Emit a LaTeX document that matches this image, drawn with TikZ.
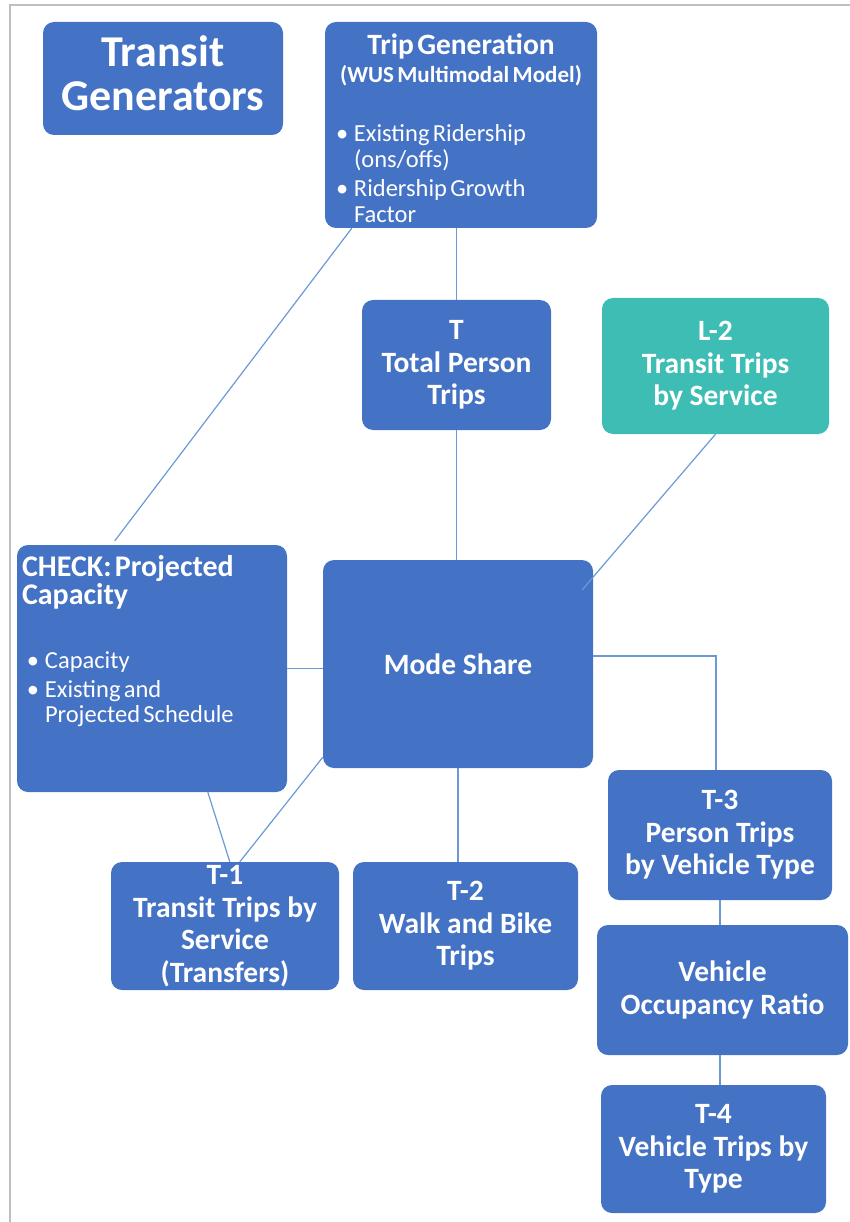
\documentclass[tikz,border=0pt]{standalone}
\usepackage{fontspec}
\setmainfont{Carlito}
\usepackage{tikz}
\usetikzlibrary{positioning}

\definecolor{boxblue}{HTML}{4472C4}
\definecolor{boxteal}{HTML}{3DBDB4}
\definecolor{linkblue}{HTML}{6A9AD6}
\definecolor{framegray}{HTML}{BFBFBF}

\newcommand{\bitem}[1]{\par\hangindent=19pt\hangafter=1\noindent
  \makebox[19pt][l]{\hspace{1pt}\textbullet}#1}

\begin{document}
\begin{tikzpicture}
  [
    x=1pt, y=-1pt,
    box/.style={fill=boxblue, rounded corners=11pt, text=white,
      align=center, inner sep=0pt,
      font=\bfseries\fontsize{29.5}{32.5}\selectfont},
    tealbox/.style={box, fill=boxteal},
    txt/.style={text=white, inner sep=0pt},
    link/.style={draw=linkblue, line width=1.2pt}
  ]
  \useasboundingbox (0,0) rectangle (850,1222);
  \draw [framegray, line width=2pt] (9.5,1222) -- (9.5,5.5) -- (850,5.5);

  % boxes
  \node (gen) at (163,78.5) [box, minimum width=240, minimum height=113,
    font=\bfseries\fontsize{44}{44}\selectfont]
    {Transit\\Generators\rule[-10pt]{0pt}{10pt}};
  \node (tripgen) at (461,125) [box, minimum width=272, minimum height=206] {};
  \node (total) at (456.5,365) [box, minimum width=189, minimum height=130]
    {T\\Total Person\\Trips};
  \node (ltwo) at (715.5,366) [tealbox, minimum width=227, minimum height=136]
    {L-2\\Transit Trips\\by Service};
  \node (check) at (152,668.5) [box, minimum width=270, minimum height=247] {};
  \node (mode) at (458,664) [box, minimum width=270, minimum height=208]
    {Mode Share};
  \node (tthree) at (720,835) [box, minimum width=224, minimum height=130]
    {T-3\\Person Trips\\by Vehicle Type};
  \node (tone) at (225,926) [box, minimum width=228, minimum height=128]
    {T-1\\Transit Trips by\\Service\\(Transfers)};
  \node (ttwo) at (465.5,926) [box, minimum width=225, minimum height=128]
    {T-2\\Walk and Bike\\Trips};
  \node (vor) at (722.5,990) [box, minimum width=251, minimum height=130]
    {Vehicle\\Occupancy Ratio};
  \node (tfour) at (713.5,1149) [box, minimum width=225, minimum height=128]
    {T-4\\Vehicle Trips by\\Type};

  % texts of the two list boxes
  \node (tripgentxt) [txt, text width=252pt, below=12pt of tripgen.north] {%
    {\centering\bfseries\fontsize{29.5}{32}\selectfont Trip Generation\par}
    {\centering\bfseries\fontsize{23}{28}\selectfont (WUS Multimodal Model)\par}
    \vspace{33pt}
    {\fontsize{24.5}{26}\selectfont
    \bitem{Existing Ridership\newline(ons/offs)}\par
    \vspace{3pt}
    \bitem{Ridership Growth\newline Factor}\par}};
  \node (checktxt) [txt, text width=255pt, anchor=north west]
    at ([xshift=9pt, yshift=-10pt]check.north west) {%
    {\raggedright\bfseries\fontsize{30}{28}\selectfont
      \hspace*{-4pt}CHECK: Projected\\\hspace*{-4pt}Capacity\par}
    \vspace{39pt}
    {\fontsize{24.5}{25}\selectfont
    \bitem{Capacity}\par
    \vspace{4pt}
    \bitem{Existing and\newline Projected Schedule}\par}};

  % connectors
  \draw [link] (total.north |- tripgen.south) -- (total.north);
  \draw [link] ([xshift=27pt]tripgen.south west)
    -- ([xshift=98pt, yshift=4pt]check.north west);
  \draw [link] (total.south) -- (total.south |- mode.north);
  \draw [link] (ltwo.south) -- ([xshift=-11pt, yshift=-30pt]mode.north east);
  \draw [link] (check.east) -- (check.east -| mode.west);
  \draw [link] ([yshift=8pt]mode.east) -| ([xshift=-4pt]tthree.north);
  \draw [link] ([yshift=11pt]mode.south west)
    -- ([xshift=129pt]tone.north west);
  \draw [link] ([xshift=191pt]check.south west)
    -- ([xshift=119pt]tone.north west);
  \draw [link] (mode.south) -- (mode.south |- ttwo.north);
  \draw [link] (tthree.south) -- (tthree.south |- vor.north);
  \draw [link] (tthree.south |- vor.south) -- (tthree.south |- tfour.north);
\end{tikzpicture}
\end{document}
